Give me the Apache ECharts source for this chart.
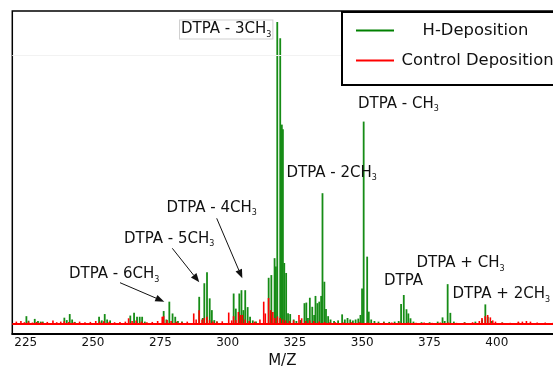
<!DOCTYPE html>
<html>
<head>
<meta charset="utf-8">
<script src="https://cdn.jsdelivr.net/npm/echarts@6/dist/echarts.min.js"></script>
<style>html,body{margin:0;padding:0;background:#fff}#c{width:553px;height:367px}</style>
</head>
<body>
<div id="c"></div>
<script>
// ---- data ----
const xTicks = [225, 250, 275, 300, 325, 350, 375, 400];

const hDepMz = [
  225.2, 226.0, 228.3, 229.5, 230.5, 231.3,
  239.3, 240.2, 241.3, 242.2, 243.2,
  252.2, 253.2, 254.3, 255.2, 256.3,
  263.8, 265.2, 266.3, 267.3, 268.2, 269.2,
  276.2, 277.2, 278.3, 279.5, 280.5, 281.5, 283.0,
  289.4, 290.7, 291.3, 292.3, 293.3, 294.1, 295.0, 296.0,
  302.2, 303.0, 304.3, 305.1, 305.8, 306.5, 307.4, 308.3, 309.3, 310.5,
  315.2, 316.2, 317.4, 317.9, 318.4, 319.5, 320.1, 320.5, 321.0, 321.7, 322.4, 323.2,
  324.5, 325.5, 327.0, 328.5, 329.2, 329.8, 330.5, 331.4, 332.1, 332.6, 333.3, 334.0, 334.7, 335.2, 335.9, 336.5, 337.3, 338.2,
  339.5, 341.0, 342.5, 343.5, 344.5, 345.5, 346.5, 347.5, 348.5, 349.3, 349.9, 350.5, 351.8, 352.4, 353.3, 354.5,
  356.0, 358.0, 360.0, 362.0, 363.5, 364.4, 365.4, 366.4, 367.1, 367.9, 369.0,
  372.0, 375.0, 378.0, 379.8, 380.6, 381.7, 382.7, 384.0, 388.0, 392.0, 394.5, 395.7, 396.6, 398.0, 402.0, 408.0
];
const hDepIntensity = [
  2.6, 1.1, 1.7, 1.0, 0.8, 0.8,
  2.1, 1.3, 3.3, 1.5, 0.7,
  2.4, 1.2, 3.3, 1.5, 1.2,
  2.8, 3.7, 2.4, 2.4, 2.4, 0.8,
  4.3, 1.5, 7.4, 3.5, 2.4, 1.0, 0.8,
  9.0, 2.0, 13.5, 17.1, 8.5, 4.6, 1.3, 0.8,
  10.1, 5.1, 10.1, 11.2, 4.6, 11.2, 5.6, 2.4, 1.2, 0.8,
  15.3, 16.2, 21.8, 19.0, 100, 94.6, 66.0, 64.5, 20.2, 16.9, 3.6, 3.3,
  1.5, 1.0, 1.3, 6.9, 7.1, 2.0, 8.7, 5.7, 3.0, 9.3, 6.9, 7.4, 9.3, 43.3, 14.0, 5.0, 2.6, 1.5,
  1.0, 1.2, 3.2, 1.5, 2.0, 1.5, 1.2, 1.5, 1.8, 3.0, 11.8, 67.0, 22.3, 4.1, 1.5, 1.0,
  0.8, 0.8, 0.7, 0.8, 1.0, 6.6, 9.6, 4.9, 3.5, 1.9, 0.8,
  0.6, 0.6, 0.8, 2.2, 1.0, 13.2, 3.7, 0.8, 0.6, 0.8, 1.5, 6.5, 2.4, 1.0, 0.5, 0.5
];

const ctrlMz = [
  221.5, 223.2, 224.5, 226.0, 227.5, 229.0, 231.0, 233.0, 235.1, 236.5, 238.0, 239.3, 241.0, 243.0, 245.0, 247.0, 249.0,
  251.0, 252.5, 254.0, 256.0, 258.0, 260.0, 262.0, 263.2, 264.5, 266.0, 268.0, 270.0, 272.0, 274.0, 275.7, 276.2, 277.5,
  279.0, 281.0, 283.0, 285.0, 287.4, 288.3, 289.4, 290.5, 291.3, 292.3, 293.3, 294.5, 296.0, 298.0,
  300.4, 301.5, 302.2, 303.0, 304.0, 304.8, 305.5, 306.5, 308.0, 310.0, 312.0, 313.4, 314.0, 315.2, 316.0, 316.8, 317.5,
  318.5, 319.5, 320.5, 321.5, 323.0, 324.5, 326.5, 327.5, 329.0, 330.5, 332.0, 334.0, 336.0, 338.0, 340.0, 343.0, 346.0,
  349.0, 352.0, 355.0, 358.0, 361.0, 364.0, 367.0, 370.0, 373.0, 376.0, 379.0, 382.0, 385.0, 388.0, 391.0,
  393.5, 394.5, 395.7, 396.6, 397.6, 398.5, 399.5, 402.0, 405.0, 408.0, 409.5, 411.0, 412.5, 415.0, 418.0, 421.0
];
const ctrlIntensity = [
  0.8, 1.0, 0.6, 0.8, 0.5, 0.7, 0.6, 0.7, 1.2, 0.6, 0.8, 0.9, 0.7, 0.6, 0.8, 0.6, 0.7,
  1.0, 0.8, 0.9, 0.7, 0.6, 0.7, 0.8, 1.9, 1.0, 1.2, 0.8, 0.6, 0.7, 1.0, 2.4, 2.6, 1.3,
  1.0, 0.8, 0.6, 0.8, 3.5, 1.5, 4.6, 1.5, 2.0, 2.4, 1.3, 0.8, 0.8, 0.9,
  3.8, 1.2, 2.6, 1.3, 4.0, 3.0, 3.0, 1.5, 1.0, 0.8, 1.5, 7.4, 3.5, 8.6, 4.6, 4.0, 2.0,
  2.5, 2.0, 1.5, 1.2, 1.0, 1.2, 3.0, 1.9, 1.0, 1.2, 1.0, 0.8, 0.7, 0.6, 0.6, 0.5, 0.6,
  0.6, 0.5, 0.4, 0.5, 0.5, 0.5, 0.5, 0.4, 0.5, 0.4, 0.5, 0.5, 0.4, 0.5, 0.6,
  1.0, 2.0, 2.6, 3.0, 2.2, 1.2, 0.8, 0.5, 0.4, 0.8, 0.8, 1.0, 0.8, 0.5, 0.5, 0.4
];

const seriesNames = ['H-Deposition', 'Control Deposition'];

// ---- chart ----
const FONT = 'DejaVu Sans';
const hData = hDepMz.map((m, i) => [m, hDepIntensity[i]]);
const cData = ctrlMz.map((m, i) => [m, ctrlIntensity[i]]);

const chart = echarts.init(document.getElementById('c'), null, {renderer: 'canvas'});

function lbl(main, x, y, boxed) {
  const parts = main.split('_');
  const text = parts.length > 1 ? '{m|' + parts[0] + '}{s|' + parts[1] + '}' : '{m|' + main + '}';
  const st = {
    text: text, x: x, y: y, verticalAlign: 'middle', align: 'left',
    rich: {
      m: {fontFamily: FONT, fontSize: 15, lineHeight: 18, fill: '#111'},
      s: {fontFamily: FONT, fontSize: 8, lineHeight: 9, verticalAlign: 'bottom', fill: '#111'}
    }
  };
  if (boxed) {
    st.backgroundColor = '#fff';
    st.borderColor = '#d0d0d0';
    st.borderWidth = 1;
    st.padding = [0, 1, 0, 1];
  }
  return {type: 'text', z: 50, style: st};
}

function arrow(x1, y1, x2, y2) {
  const ang = Math.atan2(y2 - y1, x2 - x1);
  const L = 9, W = 3.5;
  const bx = x2 - L * Math.cos(ang), by = y2 - L * Math.sin(ang);
  const px = -Math.sin(ang) * W, py = Math.cos(ang) * W;
  return [
    {type: 'line', z: 50, shape: {x1: x1, y1: y1, x2: bx, y2: by}, style: {stroke: '#111', lineWidth: 1}},
    {type: 'polygon', z: 50, shape: {points: [[x2, y2], [bx + px, by + py], [bx - px, by - py]]}, style: {fill: '#111'}}
  ];
}

const graphics = [
  lbl('DTPA - 3CH_3', 180, 29.5, true),
  lbl('DTPA - CH_3', 358, 104),
  lbl('DTPA - 2CH_3', 286.5, 173),
  lbl('DTPA - 4CH_3', 166.5, 208),
  lbl('DTPA - 5CH_3', 124, 239),
  lbl('DTPA - 6CH_3', 69, 274.5),
  lbl('DTPA', 384, 281),
  lbl('DTPA + CH_3', 416.5, 263.5),
  lbl('DTPA + 2CH_3', 452.5, 294.5),
  ...arrow(120, 282.7, 164.3, 301.7),
  ...arrow(172.3, 248.3, 199.3, 282.3),
  ...arrow(216.7, 218.3, 242.3, 278.3),
  // legend box
  {type: 'rect', z: 60, shape: {x: 342, y: 12, width: 260, height: 73}, style: {fill: '#fff', stroke: '#000', lineWidth: 2}},
  {type: 'line', z: 61, shape: {x1: 356, y1: 30.5, x2: 394, y2: 30.5}, style: {stroke: '#008000', lineWidth: 2}},
  {type: 'line', z: 61, shape: {x1: 356, y1: 60.5, x2: 394, y2: 60.5}, style: {stroke: '#ff0000', lineWidth: 2}},
  {type: 'text', z: 61, style: {text: seriesNames[0], x: 475.5, y: 31, align: 'center', verticalAlign: 'middle', fontFamily: FONT, fontSize: 16.4, fill: '#111'}},
  {type: 'text', z: 61, style: {text: seriesNames[1], x: 401.5, y: 60.5, align: 'left', verticalAlign: 'middle', fontFamily: FONT, fontSize: 16.4, fill: '#111'}}
];

chart.setOption({
  animation: false,
  backgroundColor: '#fff',
  grid: {left: 12.3, top: 11, width: 544, height: 323, outerBoundsMode: 'none', containLabel: false,
    show: true, borderColor: '#000', borderWidth: 1.5, backgroundColor: 'transparent'},
  xAxis: {
    type: 'value', min: 220, max: 422.1,
    name: 'M/Z', nameLocation: 'middle', nameGap: 13, nameTextStyle: {fontFamily: FONT, fontSize: 15, color: '#111', padding: [0, 4, 0, 0]},
    axisLine: {show: true, onZero: false, lineStyle: {color: '#000', width: 2}},
    axisTick: {show: false},
    splitLine: {show: false},
    axisLabel: {customValues: xTicks, fontFamily: FONT, fontSize: 12, color: '#111', margin: 3}
  },
  yAxis: {
    type: 'value', min: -3.3, max: 103.6,
    axisLine: {show: false}, axisTick: {show: false}, axisLabel: {show: false}, splitLine: {show: false}
  },
  series: [
    {
      name: seriesNames[0], type: 'bar', data: hData, barWidth: 1.8, barGap: '-100%',
      itemStyle: {color: '#168c16'},
      markLine: {silent: true, symbol: 'none', label: {show: false},
        lineStyle: {color: '#f2f2f2', width: 1, type: 'solid'}, data: [{yAxis: 89}]}
    },
    {
      name: seriesNames[1], type: 'bar', data: cData, barWidth: 1.6, barGap: '-100%',
      itemStyle: {color: '#ff0000'},
      markLine: {silent: true, symbol: 'none', label: {show: false},
        lineStyle: {color: '#ff0000', width: 2, type: 'solid'}, data: [{yAxis: 0}]}
    }
  ],
  graphic: graphics
});
</script>
</body>
</html>
